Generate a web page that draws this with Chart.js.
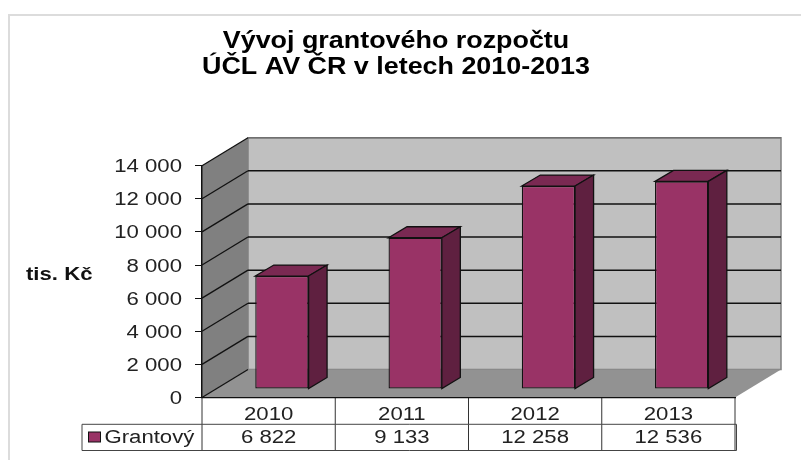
<!DOCTYPE html>
<html><head><meta charset="utf-8">
<style>html,body{margin:0;padding:0;background:#fff}canvas{display:block}</style>
<script src="https://cdn.jsdelivr.net/npm/chart.js@4/dist/chart.umd.min.js"></script>
</head><body><canvas id="c" width="801" height="460"></canvas>
<script>
const categories = ['2010','2011','2012','2013'];
const grantovy = [6822, 9133, 12258, 12536];
const seriesName = 'Grantový';
const titleLines = ['Vývoj grantového rozpočtu','ÚČL AV ČR v letech 2010-2013'];
const axisLabel = 'tis. Kč';

const fmt = v => String(v).replace(/\B(?=(\d{3})+$)/g,' ');
const FF = '"Liberation Sans", Arial, sans-serif';
const STRETCH = 1.23, TITLE_STRETCH = 1.12;
const DX = 46, DY = -28;          // wall depth
const BDX = 13.3, BDY = -8.5;     // bar plane offset
const SDX = 18.5, SDY = -11;      // bar depth

function poly(ctx, pts, fill, stroke, lw){
  ctx.beginPath();
  pts.forEach((p,i)=> i?ctx.lineTo(p[0],p[1]):ctx.moveTo(p[0],p[1]));
  ctx.closePath();
  if(fill){ctx.fillStyle=fill;ctx.fill();}
  if(stroke){ctx.strokeStyle=stroke;ctx.lineWidth=lw||1;ctx.stroke();}
}
function line(ctx,x1,y1,x2,y2,c,w){
  ctx.beginPath();ctx.moveTo(x1,y1);ctx.lineTo(x2,y2);ctx.strokeStyle=c;ctx.lineWidth=w;ctx.stroke();
}

const scene = {
  id:'scene',
  afterLayout(chart){ chart.titleBlock.left=0; chart.titleBlock.right=792; },
  beforeDraw(chart){
    const ctx=chart.ctx, a=chart.chartArea, y=chart.scales.y, x=chart.scales.x;
    const L=a.left,R=a.right,T=a.top,B=a.bottom;
    ctx.save();
    line(ctx,9,15,9,460,'#dcdcdc',2);
    line(ctx,8,15,801,15,'#dcdcdc',2);
    poly(ctx,[[L+DX,T+DY],[R+DX,T+DY],[R+DX,B+DY],[L+DX,B+DY]],'#c0c0c0','#808080',1.5);
    poly(ctx,[[L,T],[L+DX,T+DY],[L+DX,B+DY],[L,B]],'#808080');
    poly(ctx,[[L,B],[L+DX,B+DY],[R+DX,B+DY],[R,B]],'#929292');
    line(ctx,L+DX,T+DY,R+DX,T+DY,'#707070',1.5);
    y.ticks.forEach(t=>{
      const py=y.getPixelForValue(t.value);
      if(t.value>0 && t.value<14000) line(ctx,L+DX,py+DY,R+DX,py+DY,'#111',1.5);
      line(ctx,L,py,L+DX,py+DY,'#111',1.3);
    });
    const step=x.width/categories.length;
    const rowB=424.3, rowC=450.5, c='#444';
    for(let i=0;i<=categories.length;i++){
      line(ctx,L+i*step,B,L+i*step,rowB,'#333',1);
      line(ctx,L+i*step,rowB,L+i*step,rowC,'#333',1);
    }
    line(ctx,82,rowB,R+1.5,rowB,c,1);
    line(ctx,82,rowC,R+1.5,rowC,c,1);
    line(ctx,82,rowB,82,rowC,c,1);
    line(ctx,R+1.5,rowB,R+1.5,rowC,c,1);
    ctx.fillStyle='#993366';ctx.fillRect(88.5,432,12,10);
    ctx.strokeStyle='#111';ctx.lineWidth=1;ctx.strokeRect(88.5,432,12,10);
    ctx.fillStyle='#222';ctx.textBaseline='middle';
    ctx.font='18px '+FF;ctx.textAlign='left';
    ctx.fillText(seriesName,104.5,436.5);
    ctx.textAlign='center';
    grantovy.forEach((v,i)=>ctx.fillText(fmt(v),x.getPixelForTick(i),436.5));
    ctx.font='bold 18px '+FF;ctx.textAlign='left';ctx.fillStyle='#111';
    ctx.fillText(axisLabel,26,274);
    ctx.restore();
  },
  beforeDatasetDraw(chart){ chart.ctx.save(); chart.ctx.translate(BDX,BDY); },
  afterDatasetDraw(chart,args){
    const ctx=chart.ctx;
    chart.getDatasetMeta(args.index).data.forEach(b=>{
      const l=b.x-b.width/2, r=b.x+b.width/2, t=b.y, bt=b.base;
      poly(ctx,[[l,t],[l+SDX,t+SDY],[r+SDX,t+SDY],[r,t]],'#7a2952','#111',1.3);
      poly(ctx,[[r,t],[r+SDX,t+SDY],[r+SDX,bt+SDY],[r,bt]],'#5f2040','#111',1.3);
    });
    ctx.restore();
  }
};

const canvas=document.getElementById('c');
const rawCtx=canvas.getContext('2d');
// Office-style widened glyphs
const nativeFill=rawCtx.fillText.bind(rawCtx);
rawCtx.fillText=function(s,x,y,m){
  const isTitle=/^bold 24/.test(rawCtx.font);
  const k=isTitle?TITLE_STRETCH:STRETCH;
  const dy=rawCtx.textBaseline==='middle'&&!isTitle?1.5:0;
  rawCtx.save();rawCtx.translate(x,y+dy);rawCtx.scale(k,1);
  nativeFill(s,0,0);rawCtx.restore();
};

const zeroPad=s=>{s.paddingTop=s.paddingBottom=s.paddingLeft=s.paddingRight=0;};

new Chart(canvas,{
  type:'bar',
  data:{labels:categories,datasets:[{label:seriesName,data:grantovy,
    backgroundColor:'#993366',borderColor:'#111',borderWidth:1.3,borderSkipped:false,
    categoryPercentage:1,barPercentage:0.4}]},
  options:{
    responsive:false,animation:false,devicePixelRatio:1,
    layout:{padding:{left:0,right:66,top:0,bottom:0}},
    plugins:{
      legend:{display:false},tooltip:{enabled:false},
      title:{display:true,text:titleLines,color:'#000',
        font:{family:FF,size:24,weight:'bold',lineHeight:1.083},
        padding:{top:28,bottom:85.7}}
    },
    scales:{
      x:{grid:{display:false,drawTicks:false},border:{display:true,color:'#111',width:1.3},
        ticks:{color:'#222',font:{family:FF,size:18},padding:5,maxRotation:0},
        afterFit(s){s.height=62.5;zeroPad(s);}},
      y:{min:0,max:14000,
        grid:{drawOnChartArea:false,drawTicks:true,tickLength:7,color:'#111'},
        border:{display:true,color:'#111',width:1.5},
        ticks:{stepSize:2000,color:'#222',font:{family:FF,size:18},padding:13,
          callback:v=>fmt(v)},
        afterFit(s){s.width=202;zeroPad(s);}}
    }
  },
  plugins:[scene]
});
</script></body></html>
